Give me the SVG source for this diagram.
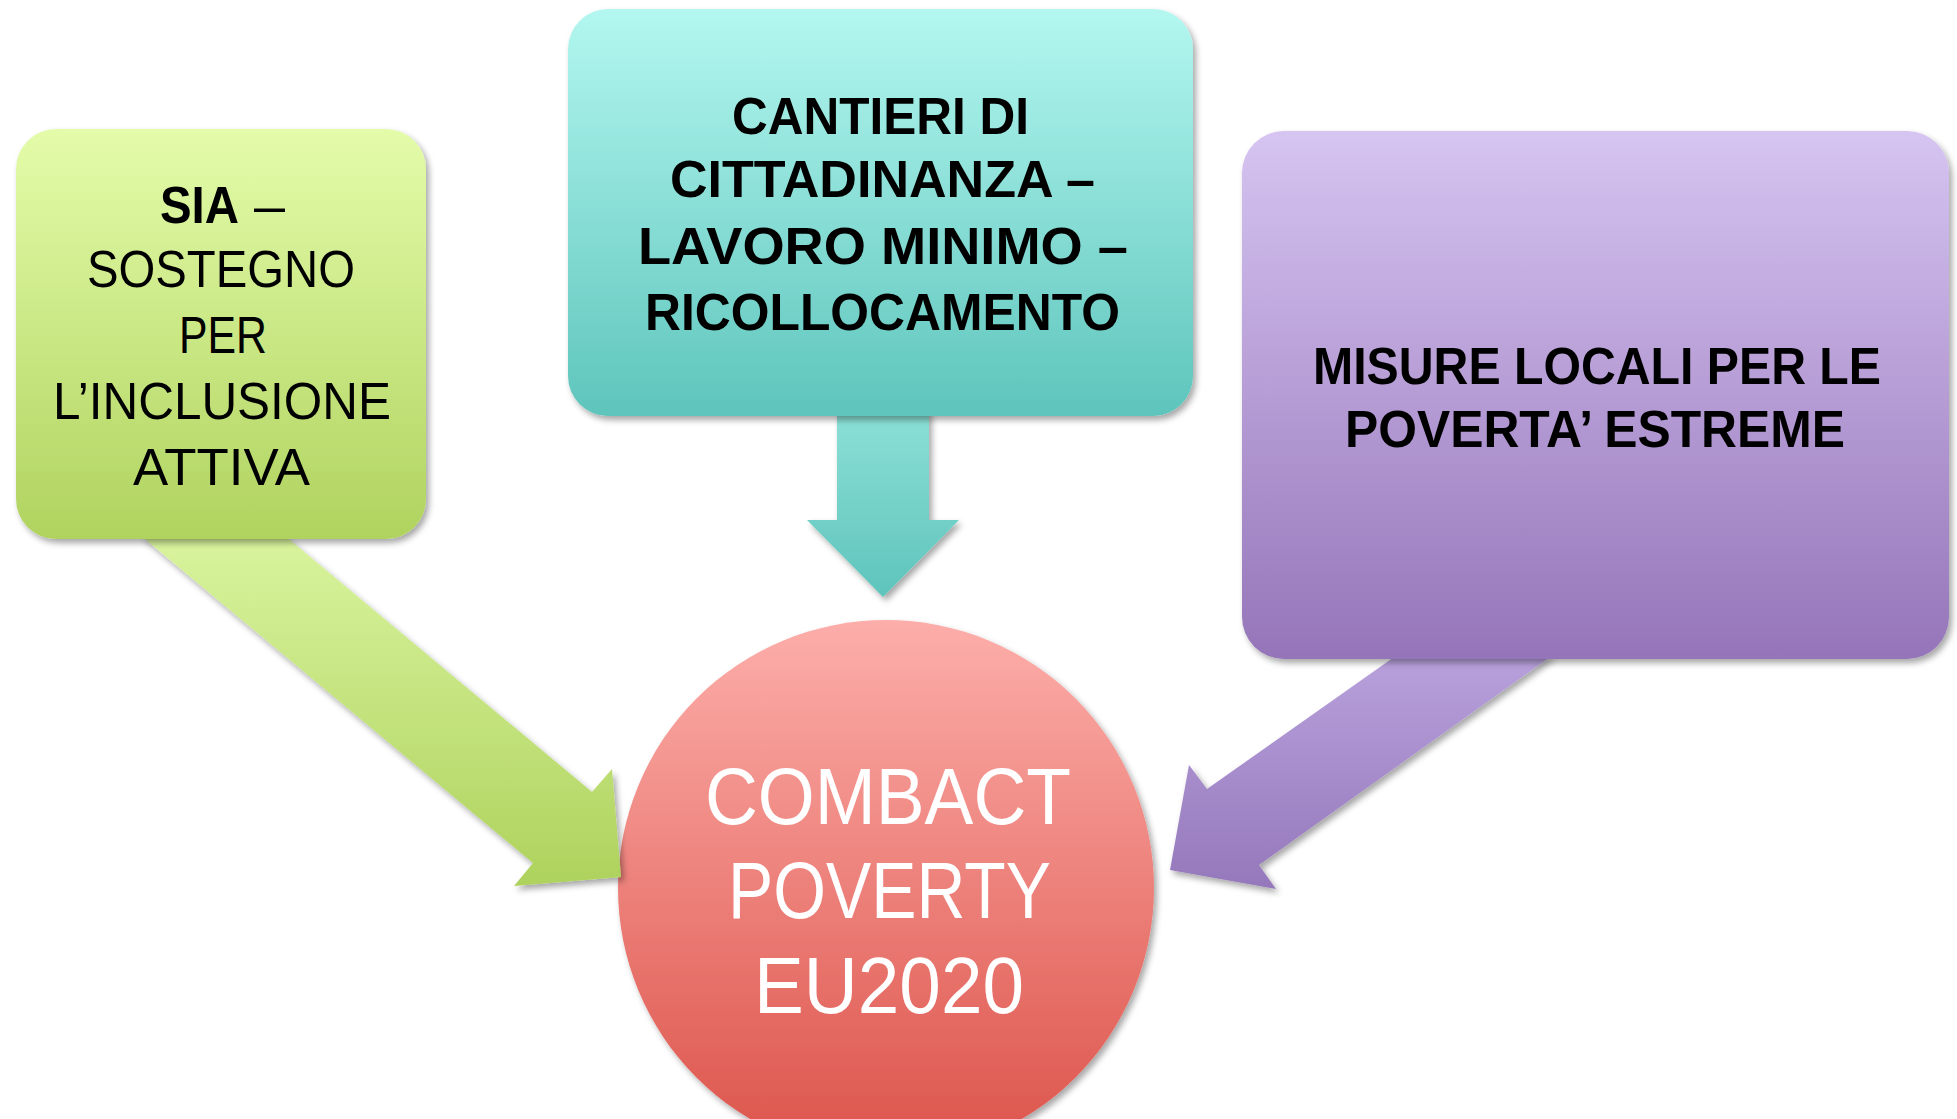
<svg xmlns="http://www.w3.org/2000/svg" width="1957" height="1119" viewBox="0 0 1957 1119">
<defs>
<linearGradient id="gGreen" x1="0" y1="0" x2="0" y2="1"><stop offset="0" stop-color="#e4fcaa"/><stop offset="1" stop-color="#b0d35f"/></linearGradient>
<linearGradient id="gTeal" x1="0" y1="0" x2="0" y2="1"><stop offset="0" stop-color="#b3f7f0"/><stop offset="1" stop-color="#5ec5bc"/></linearGradient>
<linearGradient id="gPurple" x1="0" y1="0" x2="0" y2="1"><stop offset="0" stop-color="#d6c4f1"/><stop offset="1" stop-color="#9575b9"/></linearGradient>
<linearGradient id="gRed" x1="0" y1="0" x2="0" y2="1"><stop offset="0" stop-color="#fdaeaa"/><stop offset="1" stop-color="#dc534a"/></linearGradient>
<linearGradient id="aGreen" x1="0" y1="0" x2="0" y2="1"><stop offset="0" stop-color="#d9f49e"/><stop offset="1" stop-color="#aed25d"/></linearGradient>
<linearGradient id="aTeal" x1="0" y1="0" x2="0" y2="1"><stop offset="0" stop-color="#8ce0d6"/><stop offset="1" stop-color="#5ec4bc"/></linearGradient>
<linearGradient id="aPurple" x1="0" y1="0" x2="0" y2="1"><stop offset="0" stop-color="#b8a1dc"/><stop offset="1" stop-color="#9578bb"/></linearGradient>
<filter id="sh" x="-10%" y="-10%" width="120%" height="120%"><feDropShadow dx="3" dy="4" stdDeviation="3" flood-color="#000" flood-opacity="0.35"/></filter>
</defs>
<style>
.t{font-family:"Liberation Sans",Arial,sans-serif;font-size:52px;fill:#000;}
.b{font-weight:bold;}
.c{font-family:"Liberation Sans",Arial,sans-serif;font-size:79px;fill:#fff;}
</style>
<rect width="1957" height="1119" fill="#fff"/>
<g id="node-combact">
<circle cx="886" cy="888" r="268" fill="url(#gRed)" filter="url(#sh)"/>
<text class="c" x="705" y="824" textLength="366" lengthAdjust="spacingAndGlyphs">COMBACT</text>
<text class="c" x="728" y="918" textLength="323" lengthAdjust="spacingAndGlyphs">POVERTY</text>
<text class="c" x="754" y="1013" textLength="270" lengthAdjust="spacingAndGlyphs">EU2020</text>
</g>
<g id="connectors" filter="url(#sh)">
<polygon points="140,535 284,535 592,792 612,769 621,877 514,886 533,863" fill="url(#aGreen)"/>
<polygon points="837,410 929,410 929,520 959,520 883,597 807,520 837,520" fill="url(#aTeal)"/>
<polygon points="1397,655 1553,655 1259,865 1276,889 1170,870 1189,765 1207,789" fill="url(#aPurple)"/>
</g>
<g id="node-sia">
<rect x="16" y="129" width="410" height="410" rx="40" fill="url(#gGreen)" filter="url(#sh)"/>
<text class="t"><tspan class="b" x="160" y="223" textLength="79" lengthAdjust="spacingAndGlyphs">SIA</tspan><tspan x="254" y="223" textLength="31" lengthAdjust="spacingAndGlyphs">–</tspan></text>
<text class="t" x="87" y="287" textLength="268" lengthAdjust="spacingAndGlyphs">SOSTEGNO</text>
<text class="t" x="179" y="353" textLength="88" lengthAdjust="spacingAndGlyphs">PER</text>
<text class="t" x="53" y="419" textLength="338" lengthAdjust="spacingAndGlyphs">L’INCLUSIONE</text>
<text class="t" x="133" y="485" textLength="177" lengthAdjust="spacingAndGlyphs">ATTIVA</text>
</g>
<g id="node-cantieri">
<rect x="568" y="9" width="625" height="407" rx="40" fill="url(#gTeal)" filter="url(#sh)"/>
<text class="t b" x="732" y="134" textLength="297" lengthAdjust="spacingAndGlyphs">CANTIERI DI</text>
<text class="t b" x="670" y="197" textLength="425" lengthAdjust="spacingAndGlyphs">CITTADINANZA –</text>
<text class="t b" x="638" y="264" textLength="490" lengthAdjust="spacingAndGlyphs">LAVORO MINIMO –</text>
<text class="t b" x="645" y="330" textLength="475" lengthAdjust="spacingAndGlyphs">RICOLLOCAMENTO</text>
</g>
<g id="node-misure">
<rect x="1242" y="131" width="707" height="528" rx="42" fill="url(#gPurple)" filter="url(#sh)"/>
<text class="t b" x="1313" y="384" textLength="568" lengthAdjust="spacingAndGlyphs">MISURE LOCALI PER LE</text>
<text class="t b" x="1345" y="447" textLength="500" lengthAdjust="spacingAndGlyphs">POVERTA’ ESTREME</text>
</g>
</svg>
